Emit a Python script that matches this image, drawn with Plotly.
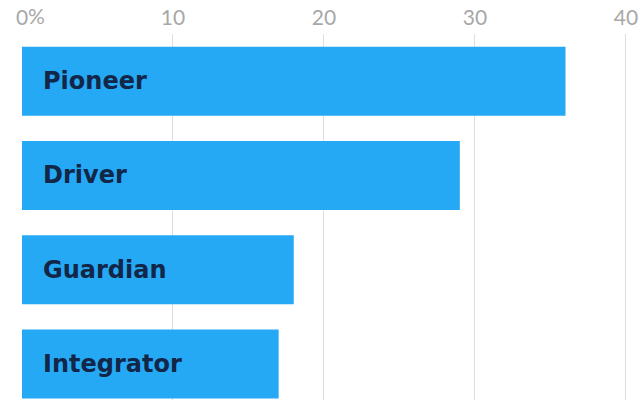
import plotly.graph_objects as go

# Share of respondents by archetype (%)
categories = ["Pioneer", "Driver", "Guardian", "Integrator"]
values = [36, 29, 18, 17]
tick_values = [0, 10, 20, 30, 40]
tick_labels = ["0", "10", "20", "30", "40"]

BAR_COLOR = "#26a9f4"
LABEL_COLOR = "#122648"
TICK_COLOR = "#a8a8a8"
GRID_COLOR = "#dedede"

fig = go.Figure(
    go.Bar(
        x=values,
        y=categories,
        orientation="h",
        marker=dict(color=BAR_COLOR, line=dict(width=0)),
        hoverinfo="skip",
    )
)

# Category names drawn inside the bars, near the left edge
for cat in categories:
    fig.add_annotation(
        x=0, y=cat, xref="x", yref="y",
        text=cat, showarrow=False,
        xanchor="left", yanchor="middle", xshift=19,
        font=dict(family="DejaVu Sans", size=24, color=LABEL_COLOR, weight="bold"),
    )

# Percent sign trailing the zero tick
fig.add_annotation(
    x=0, y=1, xref="x", yref="paper",
    text="%", showarrow=False,
    xanchor="left", yanchor="bottom", xshift=4, yshift=4,
    font=dict(family="Lato", size=21, color=TICK_COLOR),
)

fig.update_layout(
    width=641, height=400,
    margin=dict(l=22, r=0, t=34, b=0),
    paper_bgcolor="white", plot_bgcolor="white",
    bargap=0.268,
    showlegend=False,
    xaxis=dict(
        side="top", range=[0, 41],
        tickvals=tick_values, ticktext=tick_labels,
        tickfont=dict(family="Lato", size=21, color=TICK_COLOR),
        ticklabelstandoff=4,
        showgrid=True, gridcolor=GRID_COLOR, gridwidth=1,
        zeroline=False, showline=False, ticks="",
    ),
    yaxis=dict(
        range=[3.383, -0.5],
        showticklabels=False, showgrid=False, zeroline=False, showline=False,
    ),
)

fig.write_html("out.html")
